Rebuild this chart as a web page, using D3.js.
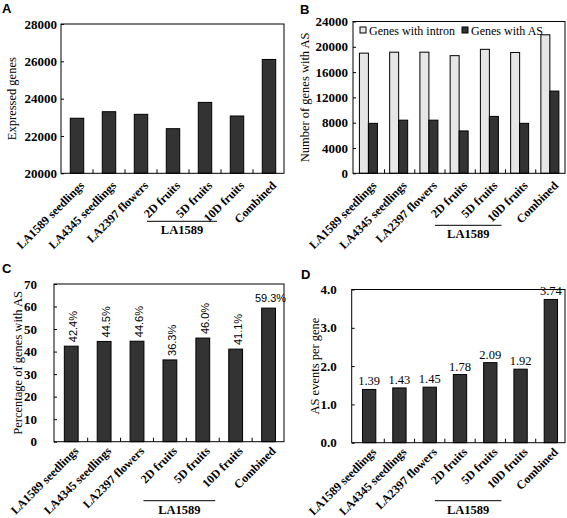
<!DOCTYPE html>
<html><head><meta charset="utf-8">
<script src="https://cdn.jsdelivr.net/npm/d3@7"></script>
<style>
body{margin:0;background:#fff;}
svg{display:block;}
</style></head>
<body>
<svg id="chart" width="567" height="518"></svg>
<script>
const categories = ["LA1589 seedlings","LA4345 seedlings","LA2397 flowers","2D fruits","5D fruits","10D fruits","Combined"];
const expressedGenes = [22950, 23300, 23160, 22390, 23800, 23070, 26100];
const genesWithIntron = [19000, 19150, 19150, 18600, 19600, 19100, 21900];
const genesWithAS = [7900, 8400, 8400, 6700, 9000, 7900, 13000];
const percentAS = [42.4, 44.5, 44.6, 36.3, 46.0, 41.1, 59.3];
const percentLabels = ["42.4%","44.5%","44.6%","36.3%","46.0%","41.1%","59.3%"];
const eventsPerGene = [1.39, 1.43, 1.45, 1.78, 2.09, 1.92, 3.74];
const eventsLabels = ["1.39","1.43","1.45","1.78","2.09","1.92","3.74"];
const ticksA = [20000, 22000, 24000, 26000, 28000];
const ticksB = [0, 4000, 8000, 12000, 16000, 20000, 24000];
const ticksC = [0, 10, 20, 30, 40, 50, 60, 70];
const ticksD = [0, 1, 2, 3, 4];
const groupLabel = "LA1589";
const groupCats = ["2D fruits", "10D fruits"];
const legendNames = ["Genes with intron", "Genes with AS"];

const SERIF = "'Liberation Serif','Times New Roman',serif";
const SANS = "'Liberation Sans',Arial,sans-serif";
const DARK = "#333333", LIGHT = "#e6e6e6";

const svg = d3.select("#chart");

function panel(o) {
  const g = svg.append("g");
  const x = d3.scaleBand().domain(categories).range([o.bx0, o.bx1]);
  const y = d3.scaleLinear().domain(o.domain).range([o.bottom, o.top]);

  const ax = d3.axisLeft(y).tickValues(o.ticks).tickSizeInner(-3).tickSizeOuter(0)
    .tickPadding(o.pad).tickFormat(o.fmt);
  const ag = g.append("g").attr("transform", `translate(${o.left},0)`).call(ax);
  ag.select(".domain").remove();
  ag.selectAll("line").attr("stroke", "#000");
  ag.selectAll("text").attr("font-family", SERIF).attr("font-weight", "bold")
    .attr("font-size", 13).attr("fill", "#000");

  g.append("text").attr("transform", `translate(${o.titleX},${(o.top + o.bottom) / 2}) rotate(-90)`)
    .attr("text-anchor", "middle").attr("font-family", SERIF).attr("font-size", 12.5)
    .attr("fill", "#000").text(o.title);

  o.drawBars(g, x, y);

  g.append("rect").attr("x", o.left).attr("y", o.top).attr("width", o.right - o.left)
    .attr("height", o.bottom - o.top).attr("fill", "none").attr("stroke", "#000").attr("stroke-width", 1);

  const bounds = categories.slice(1).map(c => x(c));
  g.selectAll(".ct").data(bounds).join("line")
    .attr("x1", d => d).attr("x2", d => d).attr("y1", o.bottom).attr("y2", o.bottom - 4)
    .attr("stroke", "#000");

  g.selectAll(".cl").data(categories).join("text")
    .attr("transform", d => `translate(${x(d) + x.bandwidth() / 2 + 5},${o.bottom + o.labOff}) rotate(-45)`)
    .attr("text-anchor", "end").attr("dy", "0.35em")
    .attr("font-family", SERIF).attr("font-weight", "bold").attr("font-size", 12)
    .attr("fill", "#000").text(d => d);

  const gx0 = x(groupCats[0]) - 10, gx1 = x(groupCats[1]) - 4;
  g.append("line").attr("x1", gx0).attr("x2", gx1).attr("y1", o.bottom + o.gLine).attr("y2", o.bottom + o.gLine)
    .attr("stroke", "#000");
  g.append("text").attr("x", (gx0 + gx1) / 2).attr("y", o.bottom + o.gLine + 13)
    .attr("text-anchor", "middle").attr("font-family", SERIF).attr("font-weight", "bold").attr("font-size", 12.5)
    .attr("fill", "#000").text(groupLabel);

  svg.append("text").attr("x", o.lx).attr("y", o.ly).attr("font-family", SANS)
    .attr("font-weight", "bold").attr("font-size", 13).attr("fill", "#000").text(o.letter);
}

function singleBars(vals, frac) {
  return (g, x, y) => {
    const w = x.step() * frac;
    g.selectAll(".b").data(categories).join("rect")
      .attr("x", (d) => x(d) + x.bandwidth() / 2 - w / 2)
      .attr("y", (d, i) => y(vals[i]))
      .attr("width", w)
      .attr("height", (d, i) => y.range()[0] - y(vals[i]))
      .attr("fill", DARK).attr("stroke", "#000").attr("stroke-width", 1);
  };
}

// A
panel({
  letter: "A", lx: 2, ly: 13,
  left: 61, right: 284, bx0: 61, bx1: 285, top: 24, bottom: 173.3,
  domain: [20000, 28000], ticks: ticksA, fmt: d3.format("d"), pad: 4,
  title: "Expressed genes", titleX: 16, gLine: 48, labOff: 10,
  drawBars: singleBars(expressedGenes, 0.42)
});

// B
panel({
  letter: "B", lx: 300, ly: 14,
  left: 353, right: 565, bx0: 354.3, bx1: 566, top: 21.5, bottom: 173.3,
  domain: [0, 24000], ticks: ticksB, fmt: d3.format("d"), pad: 5,
  title: "Number of genes with AS", titleX: 309, gLine: 52, labOff: 10,
  drawBars: (g, x, y) => {
    const w = 9;
    categories.forEach((c, i) => {
      const cx = x(c) + x.bandwidth() / 2 - 1;
      g.append("rect").attr("x", cx - w).attr("y", y(genesWithIntron[i])).attr("width", w)
        .attr("height", y(0) - y(genesWithIntron[i])).attr("fill", LIGHT).attr("stroke", "#000");
      g.append("rect").attr("x", cx).attr("y", y(genesWithAS[i])).attr("width", w)
        .attr("height", y(0) - y(genesWithAS[i])).attr("fill", DARK).attr("stroke", "#000");
    });
    const lg = g.append("g");
    lg.append("rect").attr("x", 360).attr("y", 27).attr("width", 6).attr("height", 6)
      .attr("fill", LIGHT).attr("stroke", "#000");
    lg.append("text").attr("x", 369).attr("y", 35).attr("font-family", SERIF)
      .attr("font-size", 12).attr("fill", "#000").text(legendNames[0]);
    lg.append("rect").attr("x", 462).attr("y", 27).attr("width", 6).attr("height", 6)
      .attr("fill", DARK).attr("stroke", "#000");
    lg.append("text").attr("x", 471).attr("y", 35).attr("font-family", SERIF)
      .attr("font-size", 12).attr("fill", "#000").text(legendNames[1]);
  }
});

// C
panel({
  letter: "C", lx: 2, ly: 273,
  left: 54, right: 284, bx0: 54.8, bx1: 285, top: 284, bottom: 441.7,
  domain: [0, 70], ticks: ticksC, fmt: d3.format("d"), pad: 17,
  title: "Percentage of genes with AS", titleX: 22, gLine: 59, labOff: 7,
  drawBars: (g, x, y) => {
    singleBars(percentAS, 0.42)(g, x, y);
    categories.forEach((c, i) => {
      const cx = x(c) + x.bandwidth() / 2;
      if (i < categories.length - 1) {
        g.append("text").attr("transform", `translate(${cx + 2},${y(percentAS[i]) - 4}) rotate(-90)`)
          .attr("dy", "0.35em").attr("font-family", SANS).attr("font-size", 11)
          .attr("fill", "#000").text(percentLabels[i]);
      } else {
        g.append("text").attr("x", cx + 2).attr("y", y(percentAS[i]) - 6).attr("text-anchor", "middle")
          .attr("font-family", SANS).attr("font-size", 11).attr("fill", "#000").text(percentLabels[i]);
      }
    });
  }
});

// D
panel({
  letter: "D", lx: 301, ly: 278.5,
  left: 351.7, right: 565, bx0: 354, bx1: 566, top: 289.5, bottom: 442.7,
  domain: [0, 4], ticks: ticksD, fmt: d3.format(".1f"), pad: 15,
  title: "AS events per gene", titleX: 319, gLine: 58, labOff: 7,
  drawBars: (g, x, y) => {
    singleBars(eventsPerGene, 0.44)(g, x, y);
    categories.forEach((c, i) => {
      const cx = x(c) + x.bandwidth() / 2;
      g.append("text").attr("x", cx).attr("y", y(eventsPerGene[i]) - 4).attr("text-anchor", "middle")
        .attr("font-family", SERIF).attr("font-size", 12.5).attr("fill", "#000").text(eventsLabels[i]);
    });
  }
});
</script>
</body></html>
